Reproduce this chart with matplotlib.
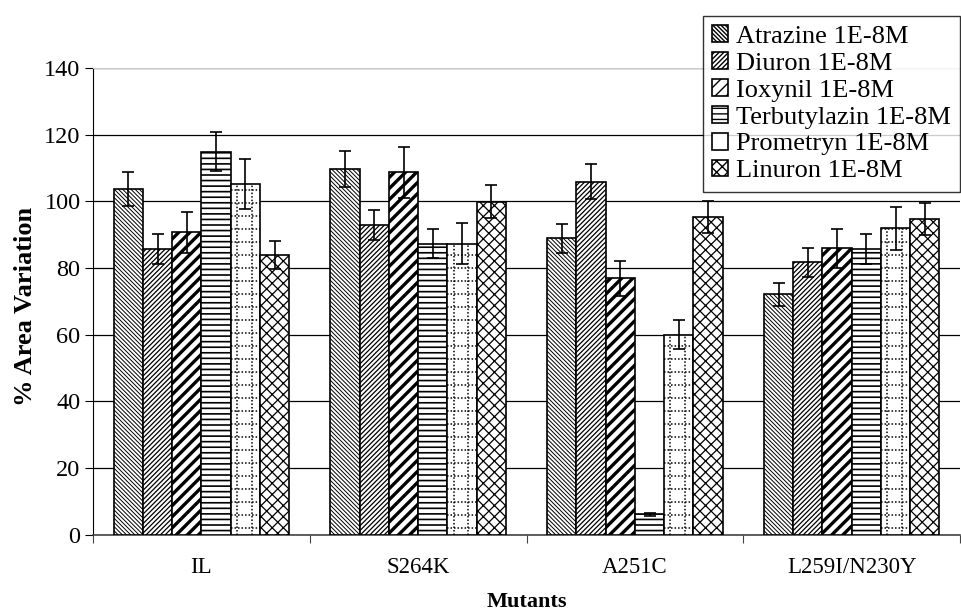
import numpy as np
import matplotlib
matplotlib.use("Agg")
import matplotlib.pyplot as plt

plt.rcParams['font.family'] = ['Liberation Serif', 'DejaVu Serif']

# Data: % area variation per mutant for each herbicide (mean and error)
mutants = ["IL", "S264K", "A251C", "L259I/N230Y"]
series = ["Atrazine 1E-8M", "Diuron 1E-8M", "Ioxynil 1E-8M",
          "Terbutylazin 1E-8M", "Prometryn 1E-8M", "Linuron 1E-8M"]
atrazine = [103.7, 109.7, 88.9, 72.1]
diuron = [85.7, 93.0, 105.9, 81.7]
ioxynil = [90.7, 108.7, 76.9, 85.9]
terbutylazin = [114.9, 87.3, 6.2, 85.7]
prometryn = [105.1, 87.3, 60.0, 91.9]
linuron = [83.9, 99.9, 95.4, 94.6]
atrazine_err = [5.2, 5.5, 4.4, 3.5]
diuron_err = [4.5, 4.5, 5.3, 4.3]
ioxynil_err = [6.2, 7.7, 5.3, 5.8]
terbutylazin_err = [5.8, 4.4, 0.4, 4.4]
prometryn_err = [7.5, 6.1, 4.4, 6.5]
linuron_err = [4.2, 4.9, 4.8, 4.8]

values = [atrazine, diuron, ioxynil, terbutylazin, prometryn, linuron]
errors = [atrazine_err, diuron_err, ioxynil_err, terbutylazin_err,
          prometryn_err, linuron_err]
hatches = ['\\' * 8, '/' * 7, '///', '---', '', 'xxx']
hatch_lw = [0.7, 0.9, 2.4, 1.2, 1.0, 0.9]

fig = plt.figure(figsize=(9.61, 6.12), dpi=100)
ax = fig.add_axes([0.0968, 0.126, 0.9022, 0.763])

n = len(series)
width = 0.81 / n
centers = np.arange(len(mutants)) + 0.5


def dotted(x, y, clip):
    ln, = ax.plot(x, y, color='black', lw=1.1, ls=(0, (1, 1.3)), zorder=3.5)
    ln.set_clip_path(clip)


handles = []
for i in range(n):
    xs = centers - 0.405 + width * (i + 0.5)
    bars = ax.bar(xs, values[i], width, color='white', edgecolor='black',
                  linewidth=1.2, hatch=hatches[i], label=series[i], zorder=3)
    for b in bars:
        if hasattr(b, 'set_hatch_linewidth'):
            b.set_hatch_linewidth(hatch_lw[i])
    ax.errorbar(xs, values[i], yerr=errors[i], fmt='none', ecolor='black',
                elinewidth=1.2, capsize=4.5, capthick=1.2, zorder=4)
    # dotted grid fill for Prometryn
    if hatches[i] == '':
        for b, x0, h in zip(bars, xs, values[i]):
            for fx in (-0.29, 0.22):
                dotted([x0 + fx * width] * 2, [0, h], b)
            for yy in np.arange(2.0, h, 3.9):
                dotted([x0 - width / 2, x0 + width / 2], [yy, yy], b)
    handles.append(bars)

ax.set_xlim(0, len(mutants))
ax.set_ylim(0, 140)
ax.set_yticks(np.arange(0, 141, 20))
ax.set_xticks(np.arange(0, len(mutants) + 1))
ax.set_xticklabels([])
ax.set_xticks(centers, minor=True)
ax.set_xticklabels(mutants, minor=True)
ax.tick_params(axis='x', which='minor', length=0, pad=16, labelsize=16.5)
ax.tick_params(axis='x', which='major', length=6, direction='out',
               color='#444444')
ax.tick_params(axis='y', length=6, direction='out', labelsize=17.5, pad=3)

ax.yaxis.grid(True, color='black', lw=0.9, zorder=0)
ax.set_axisbelow(True)
ax.spines['right'].set_visible(False)
ax.spines['top'].set_color('#cccccc')
ax.spines['left'].set_color('black')
ax.spines['bottom'].set_color('#444444')
ax.spines['bottom'].set_linewidth(1.2)

ax.set_ylabel("% Area Variation", fontsize=19, fontweight='bold')
ax.yaxis.label.set_va('center')
ax.yaxis.set_label_coords(-0.078, 0.49)
ax.set_xlabel("Mutants", fontsize=16, fontweight='bold', labelpad=10)

leg = fig.legend(handles, series, loc='upper right',
                 bbox_to_anchor=(0.999, 0.974), fontsize=19,
                 fancybox=False, frameon=True, edgecolor='black',
                 handlelength=0.6, handleheight=0.6, handletextpad=0.3,
                 borderpad=0.35, labelspacing=0.16, borderaxespad=0)
leg.get_frame().set_linewidth(1.0)
leg.set_zorder(10)

fig.savefig("out.png", dpi=100)
